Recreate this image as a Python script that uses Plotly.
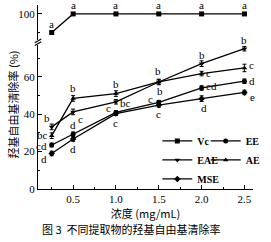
import plotly.graph_objects as go

# ---- data ----
conc = [0.25, 0.5, 1.0, 1.5, 2.0, 2.5]
vc = [90.0, 100.0, 100.0, 100.0, 100.0, 100.0]
ee = [23.5, 29.3, 40.9, 46.3, 54.0, 57.6]
eae = [33.2, 41.2, 46.6, 57.2, 67.0, 75.0]
ae = [28.5, 48.4, 51.0, 57.2, 61.7, 64.7]
mse = [19.0, 26.7, 40.3, 44.8, 48.3, 51.6]
vc_err = [0.5, 0.3, 0.3, 0.3, 0.3, 0.3]
ee_err = [1.0, 1.2, 1.0, 1.0, 1.2, 1.2]
eae_err = [1.5, 1.5, 1.2, 1.2, 1.5, 1.2]
ae_err = [1.5, 1.5, 1.5, 1.5, 1.2, 2.0]
mse_err = [1.2, 1.2, 1.0, 1.0, 1.5, 1.2]
vc_sig = ["a", "a", "a", "a", "a", "a"]
ee_sig = ["cd", "d", "c", "c", "cd", "d"]
eae_sig = ["b", "c", "bc", "b", "b", "b"]
ae_sig = ["bc", "b", "b", "b", "c", "c"]
mse_sig = ["d", "d", "c", "c", "d", "e"]
x_ticks = [0.5, 1.0, 1.5, 2.0, 2.5]
x_ticklabels = ["0.5", "1.0", "1.5", "2.0", "2.5"]
y_ticks = [0, 20, 40, 60]
y_ticklabels = ["0", "20", "40", "60"]
y2_ticks = [100]
y2_ticklabels = ["100"]

SERIF = "Liberation Serif, Times New Roman, serif"
CJK = "Noto Sans CJK SC"

fig = go.Figure()

series = [
    ("Vc", vc, vc_err, "square", "x2", "y2", "legend"),
    ("EE", ee, ee_err, "circle", "x", "y", "legend2"),
    ("EAE", eae, eae_err, "triangle-down", "x", "y", "legend"),
    ("AE", ae, ae_err, "triangle-up", "x", "y", "legend2"),
    ("MSE", mse, mse_err, "diamond", "x", "y", "legend"),
]
for name, vals, err, sym, xax, yax, leg in series:
    fig.add_trace(go.Scatter(
        x=conc, y=vals, name=name, mode="lines+markers", xaxis=xax, yaxis=yax, legend=leg,
        line=dict(color="black", width=1.3),
        marker=dict(symbol=sym, size=5, color="black"),
        error_y=dict(type="data", array=err, color="black", thickness=1, width=2),
    ))

label_sets = [
    (vc, vc_sig, "x2", "y2", [(0, 9)] * 6),
    (eae, eae_sig, "x", "y", [(-5, 9), (7, -7), (10, -1), (1, -9), (0, 9), (0, 9)]),
    (ae, ae_sig, "x", "y", [(-9, 1), (0, 10), (0, 10), (-1, 11), (7, 1), (7, 3)]),
    (ee, ee_sig, "x", "y", [(-10, -1), (0, 9), (-7, 4), (-8, 3), (10, 2), (8, 0)]),
    (mse, mse_sig, "x", "y", [(-8, -6), (0, -10), (0, -9), (0, -9), (2, -9), (8, -5)]),
]
for vals, sigs, xref, yref, offs in label_sets:
    for xv, yv, s, (dx, dy) in zip(conc, vals, sigs, offs):
        fig.add_annotation(x=xv, y=yv, xref=xref, yref=yref, text=s, showarrow=False,
                           xshift=dx, yshift=dy,
                           font=dict(family=SERIF, size=11, color="black"))

def axis_common():
    return dict(showline=True, linecolor="black", linewidth=1.3, ticks="inside",
                ticklen=4, tickcolor="black", showgrid=False, zeroline=False,
                showticklabels=True, layer="above traces",
                tickfont=dict(family=SERIF, size=11, color="#000000"))

fig.update_layout(
    width=271, height=242,
    margin=dict(l=38, r=9, t=5, b=53),
    paper_bgcolor="white", plot_bgcolor="white",
    xaxis=dict(range=[0.09, 2.6], tickmode="array", tickvals=x_ticks, ticktext=x_ticklabels,
               anchor="y",
               title=dict(text="浓度 (mg/mL)", font=dict(family=CJK, size=11, color="black"),
                          standoff=3),
               minor=dict(dtick=0.25, tick0=0, ticks="inside", ticklen=2, tickcolor="black"),
               **axis_common()),
    xaxis2=dict(range=[0.09, 2.6], anchor="y2", visible=False, matches="x"),
    yaxis=dict(domain=[0, 0.783], range=[0, 77], tickmode="array", tickvals=y_ticks,
               ticktext=y_ticklabels, anchor="x", side="left",
               minor=dict(dtick=10, tick0=0, ticks="inside", ticklen=2, tickcolor="black"),
               **axis_common()),
    yaxis2=dict(domain=[0.81, 1], range=[86, 104.8], tickmode="array", tickvals=y2_ticks,
                ticktext=y2_ticklabels, anchor="x2", side="left",
                minor=dict(dtick=10, tick0=0, ticks="inside", ticklen=2, tickcolor="black"),
                **axis_common()),
    showlegend=True,
    legend=dict(x=0.555, y=0.34, xanchor="left", yanchor="top", bgcolor="rgba(0,0,0,0)",
                font=dict(family=SERIF, size=10, color="black", weight="bold"),
                itemwidth=30, tracegroupgap=0),
    legend2=dict(x=0.78, y=0.34, xanchor="left", yanchor="top", bgcolor="rgba(0,0,0,0)",
                 font=dict(family=SERIF, size=10, color="black", weight="bold"),
                 itemwidth=30, tracegroupgap=0),
)

for yy in [0.79, 0.805]:
    fig.add_shape(type="line", xref="paper", yref="paper", x0=-0.015, x1=0.015,
                  y0=yy - 0.01, y1=yy + 0.01, line=dict(color="black", width=1.2))

fig.add_annotation(xref="paper", yref="paper", x=-0.118, y=0.457, xanchor="center",
                   yanchor="middle", text="羟基自由基清除率 (%)",
                   textangle=-90, showarrow=False, font=dict(family=CJK, size=11, color="black"))
fig.add_annotation(xref="paper", yref="paper", x=0.433, y=-0.215, xanchor="center",
                   yanchor="middle", text="图 3  不同提取物的羟基自由基清除率",
                   showarrow=False, font=dict(family=CJK, size=11, color="black"))

fig.write_html("out.html")
